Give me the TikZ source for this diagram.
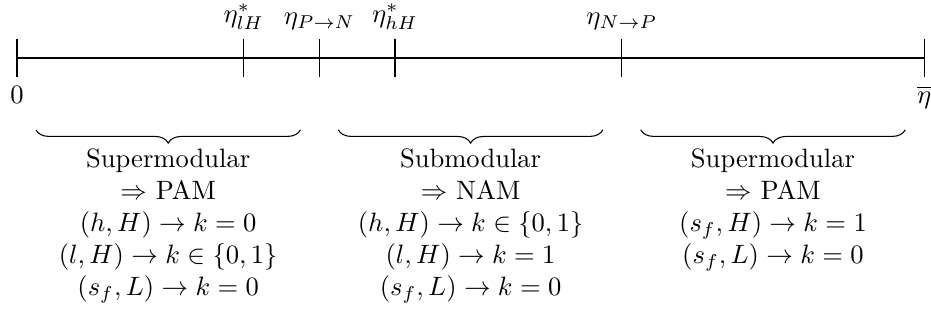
\documentclass[tikz,border=0pt]{standalone}
\usetikzlibrary{decorations.pathreplacing}
\begin{document}
\begin{tikzpicture}[
  tickline/.style={thin},
  bracestyle/.style={decorate,decoration={brace,mirror,amplitude=5pt}},
  blocktext/.style={below,align=center,inner sep=2pt}
]
\useasboundingbox (-0.225,-3.585) rectangle (12.09,0.767);
% axis
\coordinate (a0) at (0,0);
\coordinate (a1) at (12,0);
\draw (a0) -- (a1);
% ticks
\foreach \x/\n in {0/t0,3/t1,4/t2,5/t3,8/t4,12/t5}{
  \coordinate (\n top) at (\x,0.25);
  \coordinate (\n bot) at (\x,-0.25);
  \draw[tickline] (\n top) -- (\n bot);
}
\node[below] (l0) at (t0bot) {$0$};
\node[below] (l5) at (t5bot) {$\overline{\eta}$};
\node[above] (l1) at (t1top) {$\eta^*_{lH}$};
\node[above] (l2) at (t2top) {$\eta_{P\rightarrow N}$};
\node[above] (l3) at (t3top) {$\eta^*_{hH}$};
\node[above] (l4) at (t4top) {$\eta_{N\rightarrow P}$};
% braces
\coordinate (b1l) at (0.25,-0.95);
\coordinate (b1r) at (3.75,-0.95);
\coordinate (b2l) at (4.25,-0.95);
\coordinate (b2r) at (7.75,-0.95);
\coordinate (b3l) at (8.25,-0.95);
\coordinate (b3r) at (11.75,-0.95);
\draw[bracestyle] (b1l) -- (b1r) node[midway,below=5pt,blocktext] (r1) {Supermodular\\ $\Rightarrow$ PAM\\ $(h,H)\rightarrow k=0$\\ $(l,H)\rightarrow k\in\{0,1\}$\\ $(s_f,L)\rightarrow k=0$};
\draw[bracestyle] (b2l) -- (b2r) node[midway,below=5pt,blocktext] (r2) {Submodular\\ $\Rightarrow$ NAM\\ $(h,H)\rightarrow k\in\{0,1\}$\\ $(l,H)\rightarrow k=1$\\ $(s_f,L)\rightarrow k=0$};
\draw[bracestyle] (b3l) -- (b3r) node[midway,below=5pt,blocktext] (r3) {Supermodular\\ $\Rightarrow$ PAM\\ $(s_f,H)\rightarrow k=1$\\ $(s_f,L)\rightarrow k=0$};
\end{tikzpicture}
\end{document}
